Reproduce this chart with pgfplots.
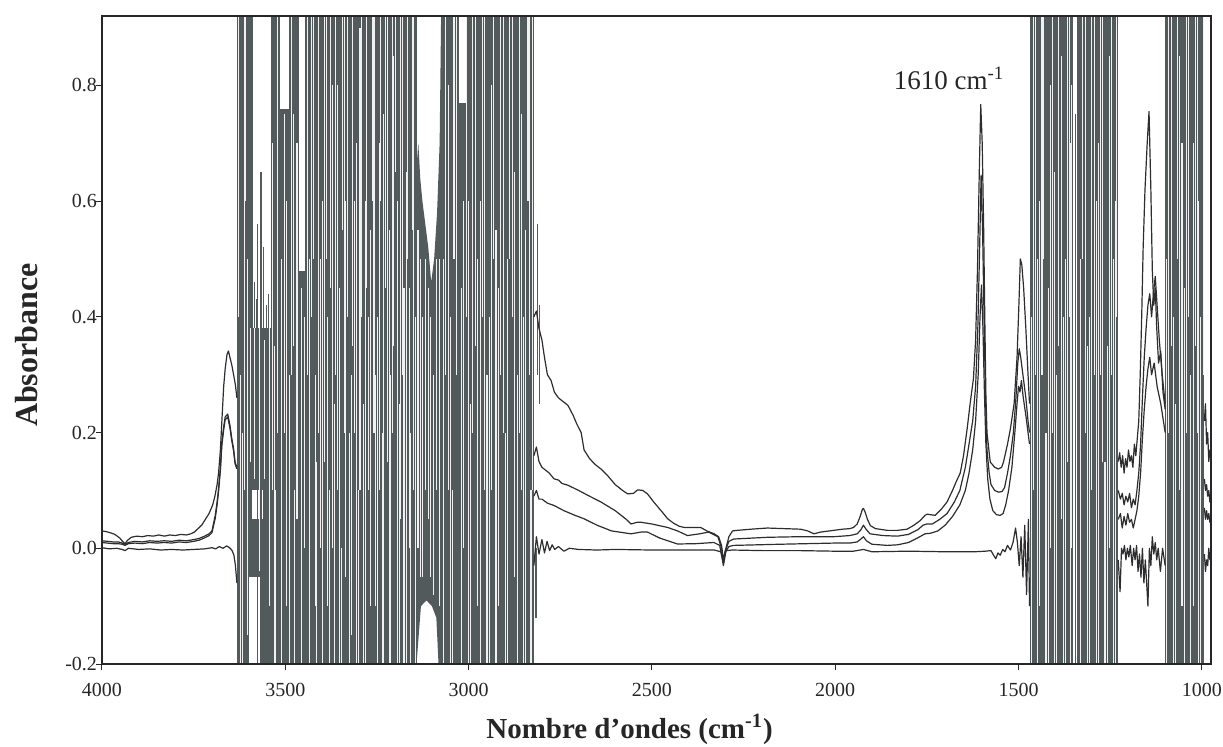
\documentclass[border=0pt]{standalone}
\usepackage{fontspec}
\setmainfont{Liberation Serif}
\usepackage{pgfplots}
\pgfplotsset{compat=1.18}
\definecolor{noise}{RGB}{82,90,92}
\definecolor{trace}{RGB}{45,45,48}

\begin{document}
\begin{tikzpicture}
\path[use as bounding box] (-51pt,-41pt) rectangle (560.5pt,332pt);
\begin{axis}[
    at={(0,0)}, anchor=south west,
    scale only axis, width=554.5pt, height=324pt,
    x dir=reverse, xmin=975, xmax=4000, ymin=-0.2, ymax=0.92,
    axis on top, axis line style={black!85, line width=0.6pt},
    xtick={1000,1500,2000,2500,3000,3500,4000},
    xticklabels={1000,1500,2000,2500,3000,3500,4000},
    ytick={-0.2,0,0.2,0.4,0.6,0.8},
    yticklabels={-0.2,0.0,0.2,0.4,0.6,0.8},
    xtick pos=bottom, ytick pos=left, tick align=outside,
    major tick length=3pt, tick style={black!85, line width=0.5pt},
    ticklabel style={font=\fontsize{10}{12}\selectfont, text=black!85},
    xticklabel style={yshift=-3pt},
    yticklabel style={xshift=4pt},
    xlabel={Nombre d’ondes (cm\textsuperscript{-1})},
    ylabel={Absorbance},
    xlabel style={at={(axis description cs:0.4757,-0.1142)}, anchor=base,
        font=\bfseries\fontsize{14.5}{16}\selectfont, text=black!85},
    ylabel style={at={(axis description cs:-0.0676,0.492)}, anchor=center,
        font=\bfseries\fontsize{16}{18}\selectfont, text=black!85},
    streak/.style={draw=white!94!black, line width=0.6pt,
        unbounded coords=jump, forget plot},
    thin streak/.style={streak, line width=0.4pt},
    spike/.style={draw=noise, line width=0.6pt,
        unbounded coords=jump, forget plot},
    band/.style={fill=noise, draw=none, forget plot},
    gap/.style={fill=white, draw=none, forget plot},
    spec/.style={trace, line width=0.6pt, unbounded coords=jump,
        line join=round, forget plot},
]
    % saturated regions (detector noise), drawn as dark bands
    \addplot[band] coordinates {(3632,-0.2) (3632,0.92) (3142,0.92) (3142,-0.2)} -- cycle;
    \addplot[band] coordinates {(3075,-0.2) (3075,0.92) (2822,0.92) (2822,-0.2)} -- cycle;
    \addplot[band] coordinates {(1470,-0.2) (1470,0.92) (1228,0.92) (1228,-0.2)} -- cycle;
    \addplot[band] coordinates {(1100,-0.2) (1100,0.92) (993,0.92) (993,-0.2)} -- cycle;
    % partly filled strip between the two bands near 3100
    \addplot[band] coordinates {(3142,-0.2) (3142,0.66) (3137,0.70) (3132,0.64)
        (3126,0.60) (3118,0.56) (3110,0.52) (3102,0.46) (3094,0.50)
        (3086,0.58) (3079,0.70) (3075,0.92) (3075,-0.2) (3082,-0.2)
        (3088,-0.12) (3100,-0.1) (3115,-0.09) (3130,-0.1)} -- cycle;

    % wider white openings inside the bands
    \addplot[gap] coordinates {(3588,0.38) (3588,0.92) (3540,0.92) (3540,0.38)} -- cycle;
    \addplot[gap] coordinates {(3515,0.76) (3515,0.92) (3490,0.92) (3490,0.76)} -- cycle;
    \addplot[gap] coordinates {(3462,0.48) (3462,0.92) (3445,0.92) (3445,0.48)} -- cycle;
    \addplot[gap] coordinates {(3600,-0.2) (3600,-0.05) (3570,-0.05) (3570,-0.2)} -- cycle;
    \addplot[gap] coordinates {(3590,0.05) (3590,0.10) (3560,0.10) (3560,0.05)} -- cycle;
    \addplot[gap] coordinates {(3026,0.77) (3026,0.92) (3008,0.92) (3008,0.77)} -- cycle;
    \addplot[gap] coordinates {(1351,-0.2) (1351,0.92) (1340,0.92) (1340,-0.2)} -- cycle;

    % thin light streaks
    \addplot[streak] coordinates {
        (3622,-0.2) (3622,0.3) (3622,nan) (3612,0.1) (3612,0.92) (3612,nan)
        (3604,-0.15) (3604,0.5) (3604,nan) (3530,-0.2) (3530,0.35) (3530,nan)
        (3522,0.2) (3522,0.92) (3522,nan) (3497,-0.1) (3497,0.6) (3497,nan)
        (3482,0.3) (3482,0.92) (3482,nan) (3474,-0.2) (3474,0.1) (3474,nan)
        (3468,0.05) (3468,0.7) (3468,nan) (3435,-0.2) (3435,0.5) (3435,nan)
        (3428,0.4) (3428,0.92) (3428,nan) (3418,-0.1) (3418,0.3) (3418,nan)
        (3410,0.2) (3410,0.92) (3410,nan) (3398,-0.2) (3398,0.6) (3398,nan)
        (3388,0.5) (3388,0.92) (3388,nan) (3380,-0.2) (3380,0.1) (3380,nan)
        (3372,0.0) (3372,0.8) (3372,nan) (3362,0.3) (3362,0.92) (3362,nan)
        (3352,-0.2) (3352,0.45) (3352,nan) (3343,0.55) (3343,0.92) (3343,nan)
        (3335,-0.05) (3335,0.6) (3335,nan) (3325,-0.2) (3325,0.2) (3325,nan)
        (3316,0.35) (3316,0.92) (3316,nan) (3306,-0.2) (3306,0.7) (3306,nan)
        (3296,0.1) (3296,0.9) (3296,nan) (3287,-0.2) (3287,0.25) (3287,nan)
        (3278,0.45) (3278,0.92) (3278,nan) (3268,-0.1) (3268,0.55) (3268,nan)
        (3258,0.2) (3258,0.92) (3258,nan) (3248,-0.2) (3248,0.4) (3248,nan)
        (3240,0.6) (3240,0.92) (3240,nan) (3232,-0.2) (3232,0.75) (3232,nan)
        (3222,0.15) (3222,0.92) (3222,nan) (3212,-0.2) (3212,0.3) (3212,nan)
        (3204,0.35) (3204,0.85) (3204,nan) (3195,-0.2) (3195,0.6) (3195,nan)
        (3186,0.05) (3186,0.92) (3186,nan) (3176,-0.2) (3176,0.45) (3176,nan)
        (3166,0.5) (3166,0.92) (3166,nan) (3158,-0.2) (3158,0.2) (3158,nan)
        (3150,0.1) (3150,0.92) (3150,nan)
        (3138,0.0) (3138,0.55) (3138,nan) (3132,-0.05) (3132,0.5) (3132,nan)
        (3125,-0.05) (3125,0.4) (3125,nan) (3118,0.1) (3118,0.5) (3118,nan)
        (3110,0.05) (3110,0.45) (3110,nan) (3103,-0.05) (3103,0.4) (3103,nan)
        (3095,-0.08) (3095,0.3) (3095,nan) (3088,0.1) (3088,0.5) (3088,nan)
        (3080,-0.1) (3080,0.5) (3080,nan)
        (3062,0.3) (3062,0.92) (3062,nan) (3050,-0.2) (3050,0.4) (3050,nan)
        (3040,0.5) (3040,0.92) (3040,nan) (3000,-0.2) (3000,0.6) (3000,nan)
        (2990,0.2) (2990,0.92) (2990,nan) (2975,-0.1) (2975,0.5) (2975,nan)
        (2962,0.4) (2962,0.92) (2962,nan) (2950,-0.2) (2950,0.3) (2950,nan)
        (2938,0.1) (2938,0.8) (2938,nan) (2925,-0.2) (2925,0.55) (2925,nan)
        (2912,0.3) (2912,0.92) (2912,nan) (2900,-0.2) (2900,0.2) (2900,nan)
        (2888,0.5) (2888,0.92) (2888,nan) (2875,-0.05) (2875,0.65) (2875,nan)
        (2862,0.2) (2862,0.92) (2862,nan) (2850,-0.2) (2850,0.4) (2850,nan)
        (2838,0.6) (2838,0.92) (2838,nan) (2830,-0.2) (2830,0.1) (2830,nan)
        (1460,0.1) (1460,0.92) (1460,nan) (1448,-0.2) (1448,0.5) (1448,nan)
        (1436,0.3) (1436,0.92) (1436,nan) (1425,-0.2) (1425,0.2) (1425,nan)
        (1413,0.0) (1413,0.8) (1413,nan) (1402,-0.2) (1402,0.65) (1402,nan)
        (1390,0.35) (1390,0.92) (1390,nan) (1378,-0.2) (1378,0.4) (1378,nan)
        (1366,0.15) (1366,0.92) (1366,nan) (1358,-0.2) (1358,0.7) (1358,nan)
        (1325,0.5) (1325,0.92) (1325,nan) (1312,-0.2) (1312,0.35) (1312,nan)
        (1300,0.1) (1300,0.92) (1300,nan) (1288,-0.2) (1288,0.6) (1288,nan)
        (1276,0.3) (1276,0.92) (1276,nan) (1264,-0.2) (1264,0.15) (1264,nan)
        (1252,0.0) (1252,0.85) (1252,nan) (1240,-0.2) (1240,0.5) (1240,nan)
        (1232,0.4) (1232,0.92) (1232,nan)
        (1090,0.2) (1090,0.92) (1090,nan) (1078,-0.2) (1078,0.4) (1078,nan)
        (1066,0.5) (1066,0.92) (1066,nan) (1054,-0.1) (1054,0.7) (1054,nan)
        (1042,0.2) (1042,0.92) (1042,nan) (1030,-0.2) (1030,0.3) (1030,nan)
        (1018,0.35) (1018,0.92) (1018,nan) (1008,-0.2) (1008,0.6) (1008,nan)};
    \addplot[thin streak] coordinates {
        (3627,0.4) (3627,0.92) (3627,nan) (3617,-0.2) (3617,0.2) (3617,nan)
        (3608,0.6) (3608,0.92) (3608,nan) (3596,0.15) (3596,0.38) (3596,nan)
        (3584,0.12) (3584,0.38) (3584,nan) (3570,-0.04) (3570,0.38) (3570,nan)
        (3556,0.12) (3556,0.36) (3556,nan) (3542,-0.1) (3542,0.38) (3542,nan)
        (3535,0.1) (3535,0.7) (3535,nan) (3526,-0.2) (3526,0.1) (3526,nan)
        (3510,-0.2) (3510,0.5) (3510,nan) (3502,0.2) (3502,0.75) (3502,nan)
        (3488,-0.2) (3488,0.3) (3488,nan) (3478,0.35) (3478,0.75) (3478,nan)
        (3455,-0.2) (3455,0.45) (3455,nan) (3448,0.0) (3448,0.4) (3448,nan)
        (3440,0.3) (3440,0.92) (3440,nan) (3422,0.5) (3422,0.92) (3422,nan)
        (3414,-0.2) (3414,0.15) (3414,nan) (3404,0.0) (3404,0.5) (3404,nan)
        (3393,0.15) (3393,0.92) (3393,nan) (3384,-0.1) (3384,0.4) (3384,nan)
        (3376,0.45) (3376,0.92) (3376,nan) (3367,-0.2) (3367,0.25) (3367,nan)
        (3357,0.1) (3357,0.8) (3357,nan) (3347,-0.2) (3347,0.0) (3347,nan)
        (3339,0.2) (3339,0.92) (3339,nan) (3330,0.4) (3330,0.92) (3330,nan)
        (3320,-0.15) (3320,0.3) (3320,nan) (3311,0.2) (3311,0.6) (3311,nan)
        (3301,-0.2) (3301,0.1) (3301,nan) (3292,0.4) (3292,0.92) (3292,nan)
        (3282,-0.2) (3282,0.6) (3282,nan) (3273,0.1) (3273,0.4) (3273,nan)
        (3263,0.6) (3263,0.92) (3263,nan) (3253,-0.1) (3253,0.3) (3253,nan)
        (3244,0.1) (3244,0.7) (3244,nan) (3236,-0.2) (3236,0.2) (3236,nan)
        (3227,0.45) (3227,0.92) (3227,nan) (3217,-0.2) (3217,0.55) (3217,nan)
        (3208,0.2) (3208,0.92) (3208,nan) (3199,0.65) (3199,0.92) (3199,nan)
        (3190,-0.2) (3190,0.25) (3190,nan) (3181,0.3) (3181,0.92) (3181,nan)
        (3171,-0.2) (3171,0.65) (3171,nan) (3162,0.0) (3162,0.45) (3162,nan)
        (3154,0.55) (3154,0.92) (3154,nan) (3146,-0.2) (3146,0.4) (3146,nan)
        (3070,-0.2) (3070,0.5) (3070,nan) (3056,0.1) (3056,0.8) (3056,nan)
        (3045,-0.2) (3045,0.1) (3045,nan) (3033,0.3) (3033,0.92) (3033,nan)
        (3020,-0.2) (3020,0.45) (3020,nan) (3014,0.0) (3014,0.6) (3014,nan)
        (3006,0.4) (3006,0.92) (3006,nan) (2995,-0.2) (2995,0.25) (2995,nan)
        (2982,0.35) (2982,0.92) (2982,nan) (2968,-0.2) (2968,0.6) (2968,nan)
        (2956,0.1) (2956,0.92) (2956,nan) (2944,-0.2) (2944,0.4) (2944,nan)
        (2931,0.5) (2931,0.92) (2931,nan) (2918,-0.1) (2918,0.45) (2918,nan)
        (2906,0.2) (2906,0.92) (2906,nan) (2894,-0.2) (2894,0.5) (2894,nan)
        (2881,0.4) (2881,0.92) (2881,nan) (2868,-0.2) (2868,0.3) (2868,nan)
        (2856,0.1) (2856,0.75) (2856,nan) (2844,-0.2) (2844,0.55) (2844,nan)
        (2834,0.3) (2834,0.92) (2834,nan) (2826,0.1) (2826,0.92) (2826,nan)
        (1466,-0.2) (1466,0.4) (1466,nan) (1454,0.3) (1454,0.92) (1454,nan)
        (1442,-0.1) (1442,0.6) (1442,nan) (1431,0.5) (1431,0.92) (1431,nan)
        (1419,-0.2) (1419,0.45) (1419,nan) (1407,0.2) (1407,0.92) (1407,nan)
        (1396,-0.2) (1396,0.3) (1396,nan) (1384,0.05) (1384,0.85) (1384,nan)
        (1372,-0.2) (1372,0.5) (1372,nan) (1362,0.4) (1362,0.92) (1362,nan)
        (1355,0.0) (1355,0.8) (1355,nan) (1330,-0.2) (1330,0.5) (1330,nan)
        (1318,0.2) (1318,0.92) (1318,nan) (1306,-0.2) (1306,0.4) (1306,nan)
        (1294,0.3) (1294,0.92) (1294,nan) (1282,-0.2) (1282,0.7) (1282,nan)
        (1270,0.15) (1270,0.92) (1270,nan) (1258,-0.2) (1258,0.35) (1258,nan)
        (1246,0.3) (1246,0.92) (1246,nan) (1236,-0.2) (1236,0.6) (1236,nan)
        (1096,-0.2) (1096,0.5) (1096,nan) (1084,0.35) (1084,0.92) (1084,nan)
        (1072,-0.2) (1072,0.25) (1072,nan) (1060,0.1) (1060,0.85) (1060,nan)
        (1048,-0.2) (1048,0.45) (1048,nan) (1036,0.4) (1036,0.92) (1036,nan)
        (1024,-0.1) (1024,0.7) (1024,nan) (1013,0.2) (1013,0.92) (1013,nan)
        (1003,-0.2) (1003,0.4) (1003,nan) (997,0.3) (997,0.92) (997,nan)};

    % dark noisy traces standing in the white openings
    \addplot[spike] coordinates {
        (3566,-0.2) (3566,0.65) (3566,nan) (3575,-0.2) (3575,0.56) (3575,nan)
        (3552,0.0) (3552,0.42) (3552,nan) (3585,0.38) (3585,0.46) (3585,nan)
        (3578,0.38) (3578,0.43) (3578,nan) (3560,0.38) (3560,0.52) (3560,nan)
        (3546,0.38) (3546,0.44) (3546,nan) (1345,-0.2) (1345,0.75) (1345,nan)
        (2816,-0.12) (2816,0.0) (2816,nan) (2812,0.30) (2812,0.56) (2812,nan)
        (2806,0.25) (2806,0.42) (2806,nan)};

    % spectrum 1 (upper trace)
    \addplot[spec] coordinates {
        (4000,0.030) (3990,0.029) (3978,0.027) (3965,0.024) (3952,0.018)
        (3944,0.012) (3937,0.008) (3930,0.014) (3920,0.019) (3905,0.021)
        (3890,0.020) (3875,0.022) (3860,0.021) (3845,0.023) (3830,0.021)
        (3815,0.023) (3800,0.022) (3785,0.024) (3770,0.023) (3758,0.025)
        (3748,0.028) (3738,0.034) (3728,0.040) (3718,0.050) (3708,0.060)
        (3698,0.075) (3692,0.090) (3686,0.11) (3682,0.13) (3677,0.17)
        (3673,0.22) (3668,0.28) (3664,0.31) (3659,0.335) (3655,0.341)
        (3651,0.33) (3646,0.317) (3641,0.30) (3636,0.282) (3632,0.26)
        (3000,nan)
        (2822,0.40) (2815,0.41) (2808,0.38) (2800,0.36) (2793,0.33)
        (2785,0.30) (2775,0.29) (2766,0.27) (2755,0.26) (2745,0.255)
        (2735,0.25) (2729,0.247) (2715,0.23) (2705,0.215) (2693,0.20)
        (2685,0.17) (2670,0.155) (2655,0.145) (2639,0.137) (2620,0.125)
        (2600,0.11) (2580,0.10) (2566,0.094) (2550,0.095) (2539,0.101)
        (2525,0.10) (2512,0.094) (2495,0.08) (2475,0.065) (2457,0.051)
        (2440,0.043) (2425,0.038) (2412,0.036) (2390,0.036) (2367,0.036)
        (2350,0.030) (2330,0.025) (2318,0.020) (2310,0.005) (2305,-0.02)
        (2300,-0.005) (2290,0.020) (2280,0.030) (2267,0.031) (2230,0.033)
        (2185,0.035) (2140,0.034) (2094,0.033) (2075,0.030) (2058,0.025)
        (2040,0.028) (2004,0.031) (1980,0.033) (1960,0.034) (1950,0.036)
        (1940,0.042) (1932,0.055) (1926,0.067) (1923,0.069) (1918,0.062)
        (1912,0.050) (1904,0.039) (1890,0.034) (1858,0.031) (1830,0.031)
        (1804,0.033) (1785,0.040) (1768,0.048) (1755,0.057) (1749,0.059)
        (1740,0.058) (1727,0.057) (1710,0.068) (1695,0.080) (1680,0.10)
        (1670,0.115) (1659,0.13) (1650,0.16) (1640,0.207) (1632,0.25)
        (1623,0.293) (1617,0.36) (1612,0.48) (1607,0.65) (1603,0.767)
        (1599,0.70) (1595,0.55) (1592,0.40) (1589,0.265) (1586,0.20)
        (1580,0.165) (1577,0.149) (1565,0.14) (1555,0.137) (1546,0.14)
        (1541,0.149) (1530,0.18) (1522,0.207) (1512,0.25) (1504,0.33)
        (1499,0.42) (1495,0.50) (1491,0.49) (1486,0.45) (1480,0.38)
        (1474,0.30) (1470,0.25)
        (1300,nan)
        (1228,0.15) (1224,0.165) (1220,0.14) (1216,0.16) (1212,0.13)
        (1208,0.155) (1204,0.14) (1200,0.17) (1196,0.15) (1192,0.16)
        (1188,0.14) (1184,0.18) (1180,0.16) (1176,0.19) (1172,0.22)
        (1168,0.30) (1164,0.40) (1160,0.52) (1155,0.62) (1149,0.70)
        (1144,0.755) (1139,0.62) (1135,0.48) (1131,0.42) (1127,0.45)
        (1123,0.38) (1118,0.32) (1112,0.34) (1106,0.27) (1100,0.24)
        (1050,nan)
        (993,0.22) (990,0.25) (987,0.18) (984,0.20) (981,0.15)
        (978,0.17) (975,0.16)};

    % spectrum 2 (middle trace)
    \addplot[spec] coordinates {
        (4000,0.013) (3985,0.012) (3970,0.011) (3955,0.011) (3945,0.009)
        (3937,0.007) (3928,0.010) (3910,0.012) (3890,0.011) (3870,0.013)
        (3850,0.012) (3830,0.013) (3810,0.012) (3790,0.014) (3770,0.013)
        (3750,0.015) (3735,0.017) (3720,0.021) (3708,0.025) (3700,0.030)
        (3691,0.057) (3686,0.080) (3682,0.103) (3677,0.14) (3673,0.184)
        (3668,0.21) (3664,0.227) (3657,0.232) (3651,0.213) (3646,0.19)
        (3641,0.172) (3637,0.149) (3632,0.14)
        (3000,nan)
        (2822,0.16) (2815,0.175) (2808,0.15) (2800,0.14) (2790,0.135)
        (2780,0.13) (2767,0.12) (2755,0.118) (2745,0.112) (2729,0.109)
        (2700,0.10) (2670,0.09) (2639,0.08) (2600,0.065) (2570,0.05)
        (2557,0.042) (2540,0.045) (2530,0.045) (2500,0.042) (2457,0.036)
        (2430,0.030) (2403,0.022) (2370,0.025) (2345,0.028) (2320,0.020)
        (2310,0.0) (2305,-0.025) (2300,-0.005) (2290,0.012) (2277,0.016)
        (2185,0.019) (2100,0.020) (2004,0.020) (1960,0.022) (1940,0.025)
        (1930,0.032) (1923,0.040) (1916,0.033) (1905,0.025) (1870,0.022)
        (1830,0.021) (1800,0.024) (1775,0.032) (1760,0.040) (1750,0.042)
        (1735,0.042) (1715,0.050) (1695,0.060) (1675,0.080) (1660,0.10)
        (1645,0.14) (1635,0.18) (1625,0.22) (1617,0.28) (1611,0.38)
        (1606,0.52) (1602,0.645) (1598,0.55) (1594,0.40) (1590,0.26)
        (1586,0.17) (1580,0.13) (1575,0.11) (1565,0.10) (1555,0.097)
        (1545,0.098) (1538,0.105) (1530,0.13) (1522,0.16) (1514,0.20)
        (1507,0.26) (1502,0.32) (1498,0.345) (1494,0.33) (1488,0.30)
        (1480,0.26) (1474,0.22) (1470,0.20)
        (1300,nan)
        (1228,0.10) (1222,0.085) (1217,0.095) (1212,0.075) (1207,0.09)
        (1202,0.08) (1197,0.095) (1192,0.07) (1187,0.085) (1182,0.075)
        (1177,0.10) (1172,0.13) (1167,0.18) (1162,0.26) (1157,0.33)
        (1152,0.38) (1147,0.42) (1142,0.44) (1137,0.40) (1132,0.44)
        (1127,0.47) (1122,0.42) (1116,0.36) (1108,0.30) (1100,0.25)
        (1050,nan)
        (993,0.12) (990,0.10) (987,0.11) (984,0.09) (981,0.10)
        (978,0.08) (975,0.09)};

    % spectrum 3 (lower trace)
    \addplot[spec] coordinates {
        (4000,0.010) (3985,0.009) (3970,0.008) (3955,0.008) (3945,0.007)
        (3937,0.005) (3928,0.008) (3910,0.009) (3890,0.008) (3870,0.010)
        (3850,0.009) (3830,0.010) (3810,0.009) (3790,0.011) (3770,0.010)
        (3750,0.012) (3735,0.014) (3720,0.018) (3708,0.022) (3700,0.027)
        (3691,0.052) (3686,0.075) (3682,0.098) (3677,0.135) (3673,0.178)
        (3668,0.205) (3664,0.222) (3657,0.227) (3651,0.208) (3646,0.186)
        (3641,0.168) (3637,0.146) (3632,0.137)
        (3000,nan)
        (2822,0.09) (2815,0.10) (2808,0.085) (2800,0.085) (2785,0.078)
        (2767,0.074) (2740,0.065) (2710,0.057) (2685,0.051) (2650,0.040)
        (2610,0.030) (2557,0.025) (2530,0.028) (2512,0.028) (2480,0.018)
        (2430,0.0074) (2380,0.008) (2331,0.010) (2315,0.005) (2305,-0.03)
        (2298,-0.005) (2290,0.003) (2277,0.005) (2150,0.007) (2004,0.009)
        (1960,0.009) (1940,0.011) (1930,0.016) (1923,0.020) (1915,0.013)
        (1900,0.007) (1858,0.005) (1830,0.006) (1800,0.010) (1775,0.018)
        (1755,0.025) (1740,0.026) (1720,0.030) (1700,0.040) (1680,0.055)
        (1660,0.075) (1645,0.10) (1635,0.13) (1625,0.17) (1617,0.22)
        (1610,0.30) (1605,0.40) (1601,0.455) (1597,0.38) (1593,0.27)
        (1589,0.18) (1584,0.12) (1578,0.085) (1570,0.065) (1560,0.058)
        (1550,0.057) (1542,0.060) (1535,0.075) (1527,0.10) (1518,0.14)
        (1510,0.20) (1504,0.25) (1500,0.28) (1496,0.27) (1492,0.29)
        (1487,0.26) (1480,0.23) (1474,0.20) (1470,0.18)
        (1300,nan)
        (1228,0.05) (1222,0.06) (1217,0.035) (1212,0.055) (1207,0.04)
        (1202,0.06) (1197,0.045) (1192,0.05) (1187,0.035) (1182,0.05)
        (1177,0.065) (1172,0.09) (1167,0.13) (1162,0.19) (1157,0.24)
        (1152,0.28) (1147,0.31) (1142,0.33) (1137,0.30) (1130,0.32)
        (1122,0.28) (1112,0.25) (1100,0.20)
        (1050,nan)
        (993,0.07) (990,0.05) (987,0.065) (984,0.05) (981,0.06)
        (978,0.045) (975,0.05)};

    % near-zero trace
    \addplot[spec] coordinates {
        (4000,0.001) (3980,-0.001) (3960,0.0) (3945,-0.002) (3937,-0.004)
        (3928,0.0) (3900,-0.002) (3870,-0.001) (3840,-0.003) (3810,-0.002)
        (3780,-0.003) (3750,-0.002) (3720,-0.001) (3700,0.001) (3690,-0.001)
        (3680,0.003) (3670,0.0) (3660,0.004) (3652,0.001) (3645,-0.004)
        (3640,-0.012) (3636,-0.03) (3632,-0.06)
        (3000,nan)
        (2822,-0.03) (2815,0.02) (2808,-0.01) (2800,0.015) (2793,-0.008)
        (2786,0.012) (2779,-0.004) (2772,0.006) (2765,-0.002) (2755,0.003)
        (2740,-0.005) (2725,0.0) (2700,-0.002) (2650,-0.003) (2600,-0.002)
        (2500,-0.003) (2400,-0.003) (2330,-0.003) (2312,-0.006) (2305,-0.02)
        (2298,-0.004) (2280,-0.003) (2200,-0.004) (2100,-0.004) (2004,-0.005)
        (1950,-0.005) (1923,-0.002) (1900,-0.006) (1800,-0.005) (1700,-0.006)
        (1620,-0.006) (1590,-0.005) (1575,-0.004) (1568,-0.012) (1562,-0.018)
        (1556,-0.008) (1550,-0.012) (1543,-0.002) (1537,-0.006) (1530,0.005)
        (1522,-0.003) (1515,0.010) (1508,0.035) (1503,0.010) (1498,-0.03)
        (1493,0.020) (1488,-0.05) (1483,0.040) (1478,-0.08) (1473,0.05)
        (1470,-0.1)
        (1300,nan)
        (1228,-0.02) (1223,-0.075) (1219,0.0) (1215,-0.01) (1211,0.005)
        (1207,-0.02) (1203,0.0) (1199,-0.015) (1195,0.005) (1190,-0.03)
        (1186,0.0) (1182,-0.02) (1178,0.005) (1174,-0.04) (1170,-0.01)
        (1166,-0.05) (1162,0.0) (1158,-0.06) (1154,-0.02) (1147,-0.1)
        (1143,0.0) (1139,-0.03) (1135,0.02) (1131,-0.01) (1127,0.01)
        (1123,-0.02) (1119,0.0) (1113,-0.04) (1107,0.0) (1100,-0.03)
        (1050,nan)
        (993,-0.01) (990,-0.04) (987,-0.02) (984,-0.03) (981,0.0)
        (978,-0.02) (975,-0.01)};

    \node[anchor=base west, inner sep=0pt, text=black!85,
        font=\fontsize{13.5}{15}\selectfont]
        at (axis cs:1841,0.793) {1610 cm\textsuperscript{-1}};
\end{axis}
\end{tikzpicture}
\end{document}
